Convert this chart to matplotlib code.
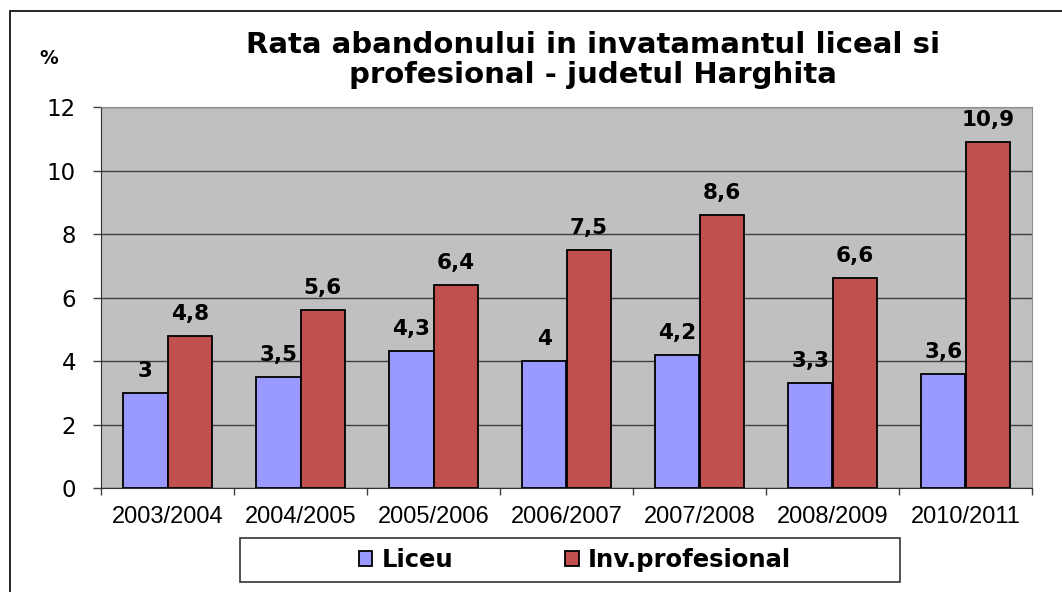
import numpy as np
import matplotlib.pyplot as plt
from matplotlib.patches import Rectangle

plt.rcParams['font.family'] = ['Liberation Sans', 'DejaVu Sans']

years = ['2003/2004', '2004/2005', '2005/2006', '2006/2007',
         '2007/2008', '2008/2009', '2010/2011']
liceu = [3, 3.5, 4.3, 4, 4.2, 3.3, 3.6]
profesional = [4.8, 5.6, 6.4, 7.5, 8.6, 6.6, 10.9]
series_names = ['Liceu', 'Inv.profesional']

W, H = 1062, 592
fig = plt.figure(figsize=(W / 100, H / 100), dpi=100)

# outer chart frame (cut off at right/bottom in the original)
fig.patches.append(Rectangle((10 / W, -0.1), 1.2, 1.1 - 11 / H, transform=fig.transFigure,
                             fill=False, edgecolor='black', linewidth=1.2))

ax = fig.add_axes([101 / W, 1 - 488 / H, (1032 - 101) / W, (488 - 107) / H])
ax.set_facecolor('#C0C0C0')

x = np.arange(len(years))
bw = 0.335
b1 = ax.bar(x - bw / 2, liceu, bw, color='#9999FF', edgecolor='black', linewidth=1.3,
            label=series_names[0], zorder=3)
b2 = ax.bar(x + bw / 2, profesional, bw, color='#C0504D', edgecolor='black', linewidth=1.3,
            label=series_names[1], zorder=3)

bold = ['DejaVu Sans']
for bars, vals in ((b1, liceu), (b2, profesional)):
    for r, v in zip(bars, vals):
        txt = ('%g' % v).replace('.', ',')
        ax.text(r.get_x() + r.get_width() / 2, v + 0.38, txt, ha='center', va='bottom',
                fontsize=15.5, fontweight='bold', family=bold, zorder=4)

ax.set_xlim(-0.5, len(years) - 0.5)
ax.set_ylim(0, 12)
ax.set_yticks(range(0, 13, 2))
ax.set_yticklabels([str(v) for v in range(0, 13, 2)], fontsize=16.5, family=['DejaVu Sans'])
ax.tick_params(axis='y', length=6, width=1, color='#404040', pad=12)
ax.yaxis.grid(True, color='#404040', linewidth=1, zorder=1)
ax.set_xticks(x)
ax.set_xticklabels(years, fontsize=17)
ax.tick_params(axis='x', length=0, pad=13)
# category boundary ticks
ax.set_xticks(np.arange(-0.5, len(years) + 0.5, 1), minor=True)
ax.tick_params(axis='x', which='minor', length=5, width=1, color='#404040')

for s in ['top', 'right']:
    ax.spines[s].set_color('#909090')
ax.spines['left'].set_color('#303030')
ax.spines['bottom'].set_color('#303030')

fig.text(593 / W, 1 - 60 / H, 'Rata abandonului in invatamantul liceal si\nprofesional - judetul Harghita',
         ha='center', va='center', fontsize=21, fontweight='bold', family=bold, linespacing=1.08)
fig.text(49 / W, 1 - 58 / H, '%', ha='center', va='center', fontsize=13.5, fontweight='bold', family=bold)

# legend box
fig.patches.append(Rectangle((240 / W, 1 - 582 / H), 660 / W, 44 / H, transform=fig.transFigure,
                             fill=False, edgecolor='#333333', linewidth=1.2))
leg = fig.legend(handles=[b1, b2], loc='center', bbox_to_anchor=(575 / W, 1 - 560 / H),
                 ncol=2, prop={'weight': 'bold', 'size': 17.5, 'family': bold}, frameon=False,
                 handlelength=0.55, handleheight=0.55, handletextpad=0.4, columnspacing=4.6)

fig.savefig('out.png', dpi=100, facecolor='white')
